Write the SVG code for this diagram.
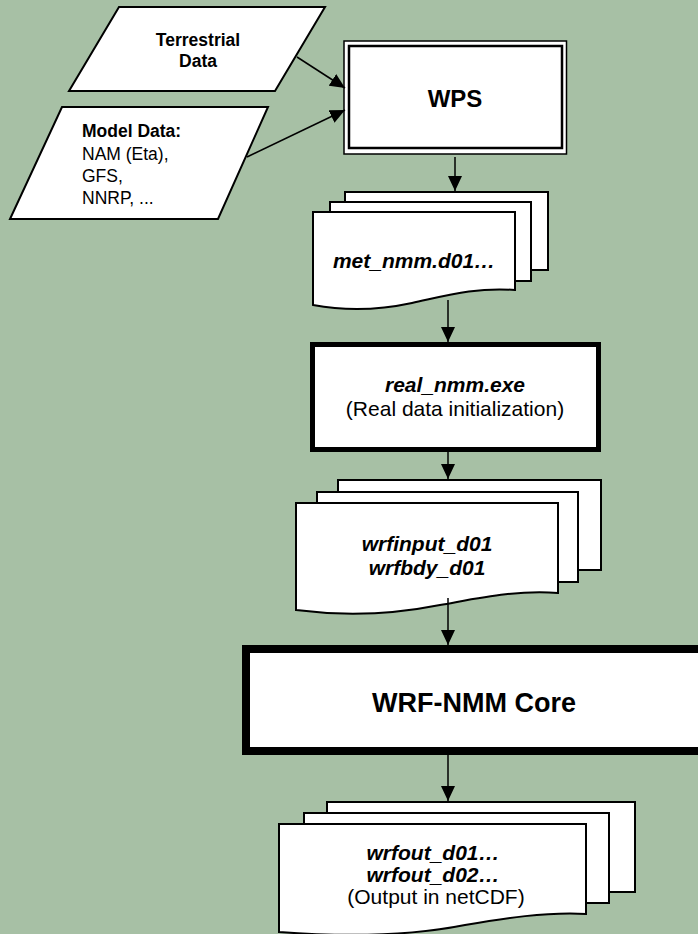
<svg xmlns="http://www.w3.org/2000/svg" width="698" height="934" viewBox="0 0 698 934">
<style>
.shape{fill:#fff;stroke:#000;stroke-linejoin:miter}
.sheet{fill:#fff;stroke:#000;stroke-width:2}
.t{font-family:"Liberation Sans",Arial,sans-serif;fill:#000}
.b{font-weight:bold}
.bi{font-weight:bold;font-style:italic}
.c{text-anchor:middle}
.conn{stroke:#000;stroke-width:1.5;fill:none;marker-end:url(#ah)}
</style>
<defs>
<marker id="ah" markerUnits="userSpaceOnUse" markerWidth="15" markerHeight="14" refX="15" refY="7" orient="auto" viewBox="0 0 15 14">
<path d="M0,0 L15,7 L0,14 Z" fill="#000"/>
</marker>
</defs>
<rect x="0" y="0" width="698" height="934" fill="#A7C0A5"/>

<g id="terrestrial">
<polygon class="shape" stroke-width="2" points="119,7 325,7 275,91 69,91"/>
<text class="t b c" font-size="17.5" x="198" y="46">Terrestrial</text>
<text class="t b c" font-size="17.5" x="198" y="67">Data</text>
</g>

<g id="modeldata">
<polygon class="shape" stroke-width="2" points="62,107 268,107 218,219 10,219"/>
<text class="t" font-size="17.5" x="82" y="137"><tspan class="b">Model Data:</tspan></text>
<text class="t" font-size="17.5" x="82" y="160">NAM (Eta),</text>
<text class="t" font-size="17.5" x="82" y="182">GFS,</text>
<text class="t" font-size="17.5" x="82" y="204">NNRP, ...</text>
</g>

<g id="wps">
<rect class="shape" x="344" y="41" width="222.5" height="113" stroke-width="1.5"/>
<rect x="349" y="46" width="213" height="102" fill="none" stroke="#000" stroke-width="2.5"/>
<text class="t b c" font-size="24" x="455" y="107">WPS</text>
</g>

<g id="met">
<rect class="sheet" x="345" y="192" width="203" height="78"/>
<rect class="sheet" x="330" y="202" width="201" height="79"/>
<path class="sheet" d="M313,212 H515 V290 C475,287 445,296 412,303 C375,311 345,311 313,305 Z"/>
<text class="t bi c" font-size="21" x="414" y="268">met_nmm.d01…</text>
</g>

<g id="real">
<rect class="shape" x="312.5" y="344.5" width="286" height="105" stroke-width="5"/>
<text class="t bi c" font-size="21" x="455" y="392">real_nmm.exe</text>
<text class="t c" font-size="21" x="455" y="416">(Real data initialization)</text>
</g>

<g id="wrfinput">
<rect class="sheet" x="338" y="480" width="263" height="90"/>
<rect class="sheet" x="317" y="492" width="261" height="90"/>
<path class="sheet" d="M296,503 H558 V593 C515,590 480,598 440,605 C395,614 350,617 296,610 Z"/>
<text class="t bi c" font-size="21" x="427" y="551">wrfinput_d01</text>
<text class="t bi c" font-size="21" x="427" y="575">wrfbdy_d01</text>
</g>

<g id="wrfcore">
<rect class="shape" x="246" y="649" width="470" height="102" stroke-width="8"/>
<text class="t b c" font-size="27" x="474" y="712">WRF-NMM Core</text>
</g>

<g id="wrfout">
<rect class="sheet" x="327" y="802" width="308" height="90"/>
<rect class="sheet" x="304" y="813" width="305" height="90"/>
<path class="sheet" d="M279,824 H586 V914 C545,912 505,918 465,925 C420,934 360,938 279,932 Z"/>
<text class="t bi c" font-size="21" x="433" y="860">wrfout_d01…</text>
<text class="t bi c" font-size="21" x="433" y="882">wrfout_d02…</text>
<text class="t c" font-size="21" x="436" y="904">(Output in netCDF)</text>
</g>

<g id="connectors">
<line class="conn" x1="297" y1="57" x2="345" y2="88"/>
<line class="conn" x1="247" y1="157" x2="345" y2="110"/>
<line class="conn" x1="455" y1="157" x2="455" y2="191"/>
<line class="conn" x1="448" y1="300" x2="448" y2="342"/>
<line class="conn" x1="448" y1="452" x2="448" y2="479"/>
<line class="conn" x1="448" y1="598" x2="448" y2="645"/>
<line class="conn" x1="448" y1="755" x2="448" y2="801"/>
</g>
</svg>
